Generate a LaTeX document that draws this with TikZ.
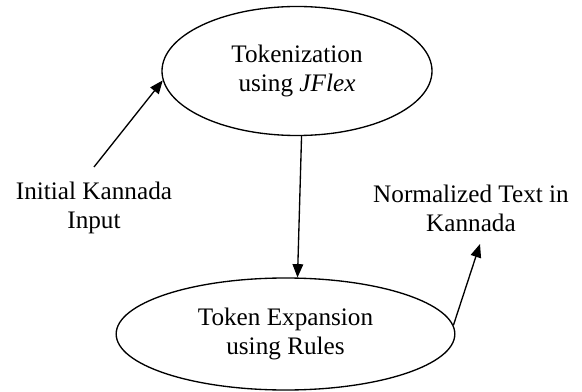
\documentclass[tikz,border=0pt]{standalone}
\usepackage{fontspec}
\setmainfont{Liberation Serif}
\usetikzlibrary{shapes.geometric,arrows.meta}
\begin{document}
\begin{tikzpicture}[x=0.75pt,y=-0.75pt,
  txt/.style={font=\fontsize{18.9}{21.8}\selectfont, align=center, inner sep=0pt},
  proc/.style={txt, draw, ellipse, line width=1pt},
  flow/.style={line width=1pt, -{Triangle[length=10pt,width=8pt]}}]
\useasboundingbox (0,0) rectangle (582,392);
% processing stages
\node[proc, minimum width=202.5pt, minimum height=96.75pt] (tok) at (297,71)
  {Tokenization\\using \textit{JFlex}};
\node[proc, minimum width=254pt, minimum height=84pt] (exp) at (285.5,334)
  {Token Expansion\\using Rules};
% input and output texts
\node[txt] (intxt) at (94,208) {Initial Kannada\\Input};
\node[txt] (outtxt) at (471,208) {Normalized Text in\\Kannada};
% free ends of the connectors
\coordinate (in1) at (94,167);
\coordinate (out1) at (480,244);
% connectors
\draw[flow] (in1) -- (tok.184);
\draw[flow] (tok.274) -- (exp.78);
\draw[flow] (exp.3) -- (out1);
\end{tikzpicture}
\end{document}
